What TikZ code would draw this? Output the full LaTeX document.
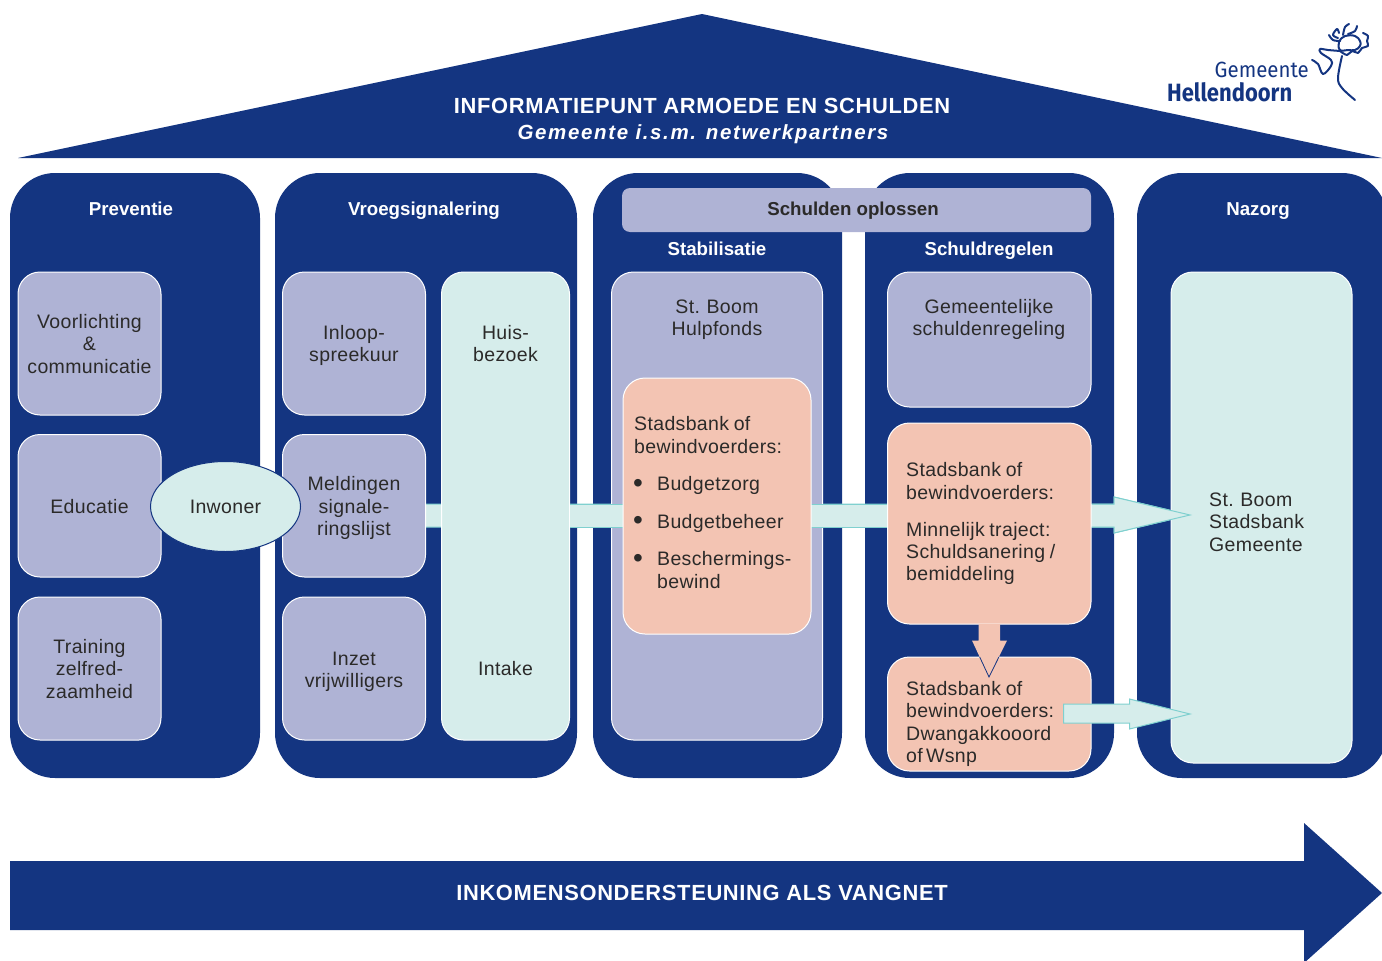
\documentclass[tikz,border=0pt]{standalone}
\usepackage{fontspec}
\usetikzlibrary{shapes.geometric}
\setmainfont{Liberation Sans}
\newfontfamily\bodyf[LetterSpace=1.8,WordSpace=0.8]{Liberation Sans}
\newfontfamily\headf{Liberation Sans}
\newfontfamily\titlef[LetterSpace=3.0]{Liberation Sans}
\newfontfamily\subf[LetterSpace=8.0]{Liberation Sans}
\newfontfamily\logof{Fira Sans}
\definecolor{navy}{HTML}{143581}
\definecolor{lilac}{HTML}{AFB3D5}
\definecolor{mint}{HTML}{D6EDEB}
\definecolor{peach}{HTML}{F3C4B3}
\definecolor{mintline}{HTML}{7FD0CF}
\definecolor{ink}{HTML}{2B2A29}
\tikzset{
 panel/.style={fill=navy,rounded corners=45pt,draw=none},
 boxb/.style={draw=white,line width=1pt,rounded corners=22pt,anchor=north west,inner sep=0pt,outer sep=0pt},
 lilacbox/.style={boxb,fill=lilac},
 mintbox/.style={boxb,fill=mint},
 peachbox/.style={boxb,fill=peach},
 body/.style={text=ink,align=center,inner sep=0pt,font=\bodyf\fontsize{19.5}{22.3}\selectfont},
 bodyl/.style={body,align=left,anchor=west},
 bul/.style={text=ink,inner sep=0pt,font=\headf\fontsize{28}{28}\selectfont},
 head/.style={text=white,inner sep=0pt,text height=16pt,text depth=2pt,font=\headf\bfseries\fontsize{18.7}{22}\selectfont},
 blockarrow/.style={fill=mint,draw=mintline,line width=1pt,line join=miter},
 logoline/.style={navy,line width=2pt,line cap=round,line join=round},
}
\newcommand{\boxnode}[7]{\node[#1,minimum width=#5-#4,minimum height=#7-#6] (#2) at (#4,#6) {};}
\begin{document}
\begin{tikzpicture}[x=1pt,y=-1pt]
\useasboundingbox (0,0) rectangle (1382,961);
\begin{scope}
\clip (0,0) rectangle (1382,961);
% roof
\fill[navy] (18,158) -- (702,14) -- (1382,158) -- cycle;
\node[inner sep=0,text=white,font=\titlef\bfseries\fontsize{21.9}{24}\selectfont] (title) at (702,106) {INFORMATIEPUNT ARMOEDE EN SCHULDEN};
\node[inner sep=0,text=white,font=\subf\bfseries\itshape\fontsize{20.5}{24}\selectfont] (subtitle) at (703,134) {Gemeente i.s.m. netwerkpartners};
% panels
\fill[panel] (10,173) rectangle (260,778);
\fill[panel] (275,173) rectangle (577,778);
\fill[panel] (593,173) rectangle (842,778);
\fill[panel] (865,173) rectangle (1114,778);
\fill[panel] (1137,173) rectangle (1387,778);
% main band, behind boxes
\path[blockarrow] (425,504) -- (1114,504) -- (1114,497) -- (1190,515) -- (1114,533) -- (1114,527) -- (425,527) -- cycle;
% headings
\node[head] (hprev) at (131,208) {Preventie};
\node[head] (hvroeg) at (424,208) {Vroegsignalering};
\node[head] (hstab) at (717,248) {Stabilisatie};
\node[head] (hschuld) at (989,248) {Schuldregelen};
\node[head] (hnaz) at (1258,208) {Nazorg};
% banner
\node[fill=lilac,rounded corners=8pt,anchor=north west,minimum width=469,minimum height=44,inner sep=0,outer sep=0] (banner) at (622,188) {};
\node[head,text=ink] (bannertext) at (853,208) {Schulden oplossen};
% preventie boxes
\boxnode{lilacbox}{p1}{}{18}{161}{272}{415}
\boxnode{lilacbox}{p2}{}{18}{161}{434.5}{577}
\boxnode{lilacbox}{p3}{}{18}{161}{597}{740}
\node[body] (tp1) at (89.5,344) {Voorlichting\\\&\\communicatie};
\node[body] (tp2) at (89.5,507) {Educatie};
\node[body] (tp3) at (89.5,669) {Training\\zelfred-\\zaamheid};
% vroeg boxes
\boxnode{lilacbox}{v1}{}{282.5}{425.5}{272}{415}
\boxnode{lilacbox}{v2}{}{282.5}{425.5}{434.5}{577}
\boxnode{lilacbox}{v3}{}{282.5}{425.5}{597}{740}
\boxnode{mintbox}{v4}{}{441.5}{569.5}{272}{740}
\node[body] (tv1) at (354,345.5) {Inloop-\\spreekuur};
\node[body] (tv2) at (354,508) {Meldingen\\signale-\\ringslijst};
\node[body] (tv3) at (354,671.5) {Inzet\\vrijwilligers};
\node[body] (tv4) at (505.5,343.5) {Huis-\\bezoek};
\node[body] (tv5) at (505.5,669) {Intake};
% inwoner
\node[body,ellipse,draw=navy,line width=1pt,fill=mint,minimum width=150,minimum height=90,inner sep=0] (inw) at (225.5,506.5) {Inwoner};
% stabilisatie
\boxnode{lilacbox}{s1}{}{611.5}{822.5}{272}{740}
\node[body] (ts1) at (717,320) {St. Boom\\Hulpfonds};
% band over the lilac box
\fill[mint] (570,504.5) rectangle (887,526.5);
\draw[mintline,line width=1pt] (570,504) -- (887,504);
\draw[mintline,line width=1pt] (570,527) -- (887,527);
\boxnode{peachbox}{s2}{}{623}{811}{378}{634}
\node[bodyl] (ts2) at (634,435) {Stadsbank of\\bewindvoerders:};
\node[bul] (b1) at (638,485.5) {•};
\node[bul] (b2) at (638,523) {•};
\node[bul] (b3) at (638,560.5) {•};
\node[bodyl] (ts3) at (657,485) {Budgetzorg};
\node[bodyl] (ts4) at (657,523) {Budgetbeheer};
\node[bodyl] (ts5) at (657,570) {Beschermings-\\bewind};
% schuldregelen
\boxnode{lilacbox}{r1}{}{887.5}{1091}{272}{407}
\node[body] (tr1) at (989,319.5) {Gemeentelijke\\schuldenregeling};
\boxnode{peachbox}{r2}{}{887.5}{1091}{423}{624}
\node[bodyl] (tr2) at (906,481) {Stadsbank of\\bewindvoerders:};
\node[bodyl] (tr3) at (906,553.5) {Minnelijk traject:\\Schuldsanering /\\bemiddeling};
\boxnode{peachbox}{r3}{}{887.5}{1091}{657}{771}
\node[bodyl] (tr4) at (906,724) {Stadsbank of\\bewindvoerders:\\Dwangakkooord\\of\,Wsnp};
% nazorg
\boxnode{mintbox}{n1}{}{1171}{1352}{272}{763}
\node[bodyl] (tn1) at (1209,522) {St. Boom\\Stadsbank\\Gemeente};
% head of the main arrow, over the boxes
\path[fill=mint] (1092,504.5) -- (1114,504.5) -- (1114,497) -- (1190,515) -- (1114,533) -- (1114,526.5) -- (1092,526.5) -- cycle;
\draw[mintline,line width=1pt,line join=miter] (1092,504) -- (1114,504) -- (1114,497) -- (1190,515) -- (1114,533) -- (1114,527) -- (1092,527);
% arrow down
\fill[peach] (978.5,624) -- (978.5,640.5) -- (972,640.5) -- (989,677) -- (1007,640.5) -- (1000,640.5) -- (1000,624) -- cycle;
\draw[navy,line width=0.8pt,line join=miter] (979.7,657) -- (989,677) -- (998.9,657);
% arrow lower
\path[blockarrow] (1063.5,704) -- (1129.5,704) -- (1129.5,699) -- (1190,714) -- (1129.5,729) -- (1129.5,723) -- (1063.5,723) -- cycle;
% bottom arrow
\fill[navy] (10,861) -- (1304,861) -- (1304,823) -- (1382,893) -- (1304,963) -- (1304,930) -- (10,930) -- cycle;
\node[inner sep=0,text=white,font=\titlef\bfseries\fontsize{21.9}{24}\selectfont] (bottomtitle) at (702,892.5) {INKOMENSONDERSTEUNING ALS VANGNET};
\end{scope}
% logo
\node[anchor=east,inner sep=0,text=navy,font=\logof\fontsize{22}{24}\selectfont,xscale=0.93] (gem) at (1309,70) {Gemeente};
\node[anchor=west,inner sep=0,text=navy,font=\logof\bfseries\fontsize{25}{26}\selectfont,xscale=0.88] (hel) at (1167,92) {Hellendoorn};
\draw[logoline] plot[smooth,tension=0.6] coordinates {(1355,100) (1342,88) (1338,78) (1342,56)};
\draw[logoline] plot[smooth,tension=0.6] coordinates {(1312,60) (1318,64) (1323,74) (1331,66) (1331,60) (1321,53) (1320,49) (1328,50) (1340,51)};
\draw[logoline] plot[smooth cycle,tension=0.7] coordinates {(1340,50) (1339,42) (1345,36) (1355,36) (1360,41) (1360,46) (1355,50) (1348,50)};
\draw[logoline] plot[smooth,tension=0.6] coordinates {(1340,51) (1347,55) (1352,51) (1358,53) (1362,48) (1368,46) (1367,41) (1368,36) (1363,33)};
\draw[logoline] plot[smooth,tension=0.6] coordinates {(1340,41) (1333,40) (1329,35)};
\draw[logoline] plot[smooth,tension=0.6] coordinates {(1338,38) (1333,35) (1337,29) (1339,33)};
\draw[logoline] plot[smooth,tension=0.6] coordinates {(1343,35) (1345,27) (1349,24)};
\draw[logoline] plot[smooth,tension=0.6] coordinates {(1348,34) (1355,31) (1357,26)};
\end{tikzpicture}
\end{document}
